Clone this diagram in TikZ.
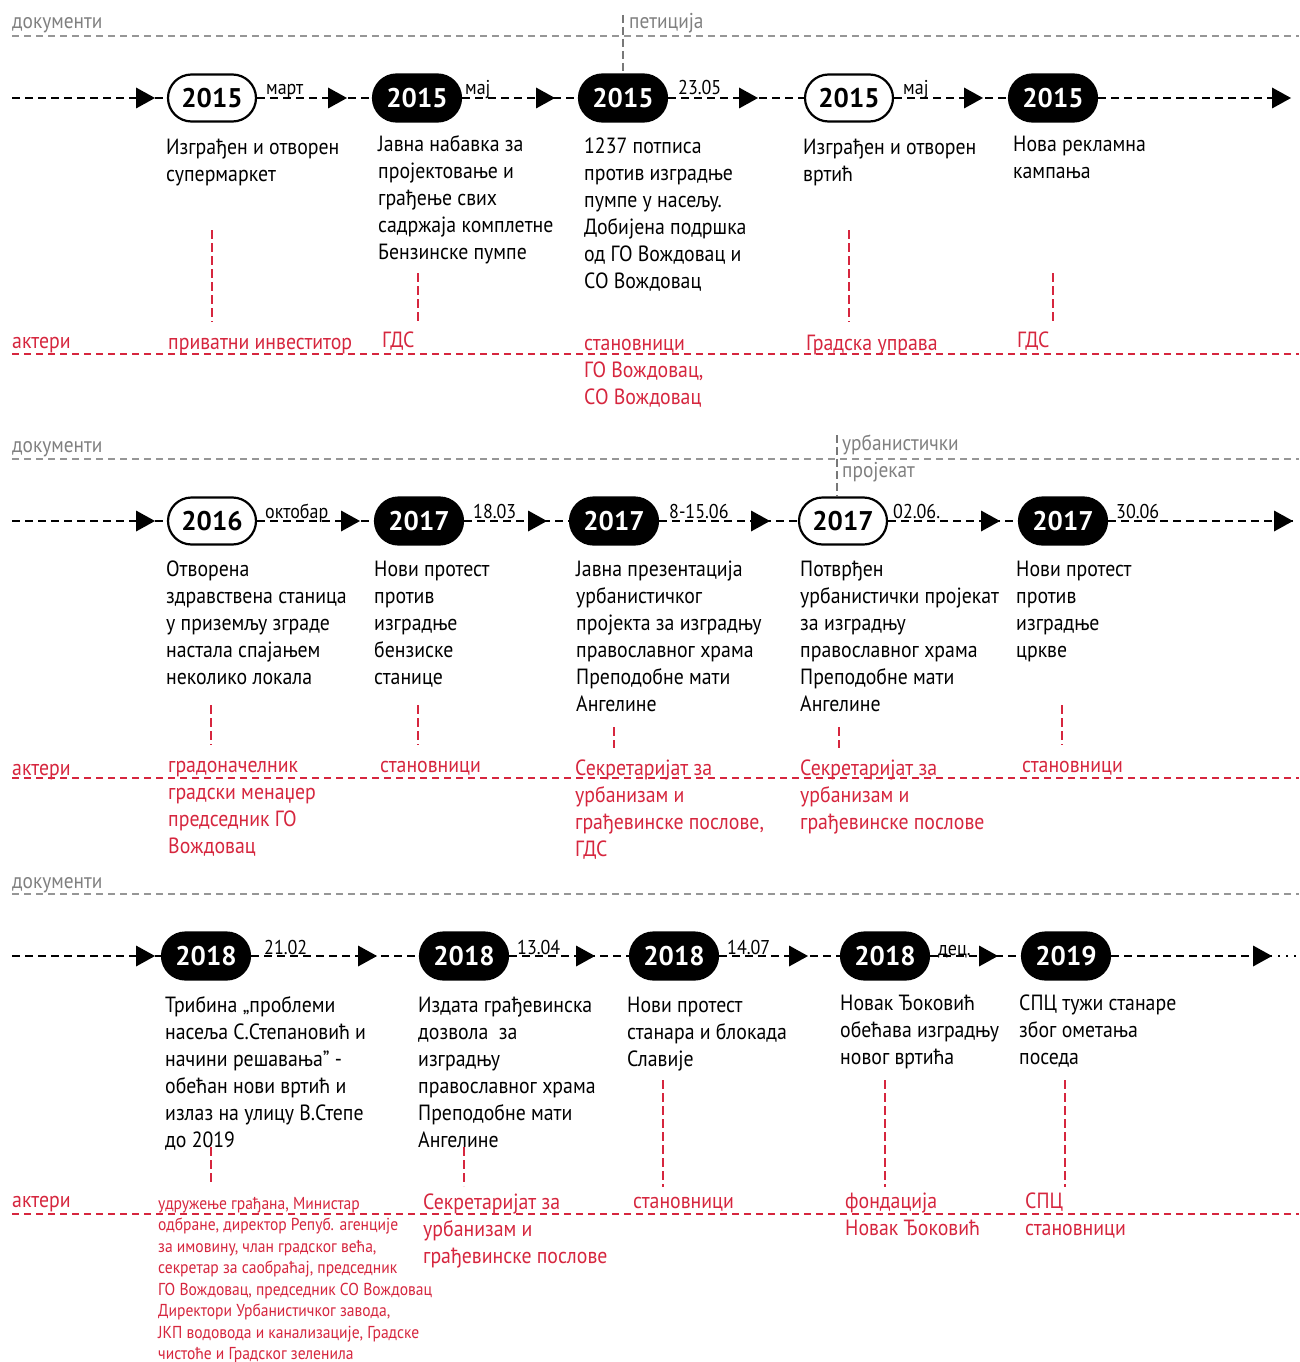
\documentclass[tikz,border=0pt]{standalone}
\usepackage{fontspec}
\setmainfont{PT Sans}[FakeStretch=0.9]
\newfontfamily\yearfont{PT Sans}
\usetikzlibrary{shapes.misc}
\definecolor{myred}{RGB}{214,38,62}
\definecolor{docgray}{RGB}{128,128,128}
\definecolor{linegray}{RGB}{150,150,150}
\tikzset{
  yr/.style={rounded rectangle, minimum width=88pt, minimum height=47pt, inner sep=0pt,
    font=\yearfont\bfseries\fontsize{27}{27}\selectfont, line width=2.2pt},
  yrw/.style={yr, draw=black, fill=white, text=black},
  yrb/.style={yr, draw=black, fill=black, text=white},
  tl/.style={line width=2pt, dash pattern=on 8pt off 5pt},
  tldot/.style={line width=2pt, dash pattern=on 2pt off 6pt},
  arrowhead/.pic={\fill[black] (-19,-10.5) -- (0,0) -- (-19,10.5) -- cycle;},
  body/.style={anchor=north west, inner sep=0pt, align=left, yshift=18.9pt,
    font=\fontsize{22}{27}\selectfont},
  act/.style={body, text=myred},
  smallact/.style={anchor=north west, inner sep=0pt, align=left, yshift=15.05pt,
    text=myred, font=\fontsize{17.3}{21.5}\selectfont},
  dt/.style={anchor=base west, inner sep=0pt, font=\fontsize{20}{20}\selectfont},
  doc/.style={anchor=base west, inner sep=0pt, text=docgray, font=\fontsize{21.5}{27}\selectfont},
  docline/.style={draw=linegray, line width=1.2pt, dash pattern=on 7pt off 5pt},
  docvert/.style={draw=linegray!80!black, line width=1.8pt, dash pattern=on 8pt off 4pt},
  actline/.style={draw=myred, line width=1.2pt, dash pattern=on 7pt off 5pt},
  link/.style={draw=myred, line width=1.1pt, dash pattern=on 9pt off 4pt},
}
\begin{document}
\begin{tikzpicture}[x=1pt, y=-1pt]
\useasboundingbox (0,0) rectangle (1299,1362);
\fill[white] (0,0) rectangle (1299,1362);

% ================= ROW 1 =================
\node[doc] (d1) at (12,29) {документи};
\coordinate (d1l) at (12,36); \coordinate (d1r) at (1299,36);
\draw[docline] (d1l) -- (d1r);
\node[doc] (pet) at (629,29) {петиција};

\node[yrw] (r1a) at (212,98) {2015};
\node[yrb] (r1b) at (417,98) {2015};
\node[yrb] (r1c) at (623,98) {2015};
\node[yrw] (r1d) at (849,98) {2015};
\node[yrb] (r1e) at (1053,98) {2015};
\coordinate (s1) at (12,98); \coordinate (e1) at (1291,98);
\coordinate (v1) at (623,15);
\draw[docvert] (v1) -- (r1c.north);

\draw[tl] (s1) -- (r1a.west);
\draw[tl] (r1a.east) -- (r1b.west);
\draw[tl] (r1b.east) -- (r1c.west);
\draw[tl] (r1c.east) -- (r1d.west);
\draw[tl] (r1d.east) -- (r1e.west);
\draw[tl] (r1e.east) -- (e1);
\pic at (155,98) {arrowhead};
\pic at (347,98) {arrowhead};
\pic at (555,98) {arrowhead};
\pic at (758,98) {arrowhead};
\pic at (983,98) {arrowhead};
\pic at (1291,98) {arrowhead};

\node[dt] (t1a) at (266,95) {март};
\node[dt] (t1b) at (465,95) {мај};
\node[dt] (t1c) at (678,95) {23.05};
\node[dt] (t1d) at (903,95) {мај};

\node[body] (b1a) at (166,154) {\strut Изграђен и отворен\\супермаркет};
\node[body] (b1b) at (378,151) {\strut Јавна набавка за\\пројектовање и\\грађење свих\\садржаја комплетне\\Бензинске пумпе};
\node[body] (b1c) at (584,153) {\strut 1237 потписа\\против изградње\\пумпе у насељу.\\Добијена подршка\\од ГО Вождовац и\\СО Вождовац};
\node[body] (b1d) at (803,154) {\strut Изграђен и отворен\\вртић};
\node[body] (b1e) at (1013,151) {\strut Нова рекламна\\кампања};

\coordinate (l1a1) at (212,230); \coordinate (l1a2) at (212,322);
\coordinate (l1b1) at (418,273); \coordinate (l1b2) at (418,322);
\coordinate (l1d1) at (849,230); \coordinate (l1d2) at (849,322);
\coordinate (l1e1) at (1053,273); \coordinate (l1e2) at (1053,322);
\draw[link] (l1a1) -- (l1a2);
\draw[link] (l1b1) -- (l1b2);
\draw[link] (l1d1) -- (l1d2);
\draw[link] (l1e1) -- (l1e2);

\node[act] (a1) at (12,348) {\strut актери};
\coordinate (a1l) at (12,354); \coordinate (a1r) at (1299,354);
\draw[actline] (a1l) -- (a1r);
\node[act] (a1a) at (168,349) {\strut приватни инвеститор};
\node[act] (a1b) at (382,347) {\strut ГДС};
\node[act] (a1c) at (584,350) {\strut становници\\ГО Вождовац,\\СО Вождовац};
\node[act] (a1d) at (806,350) {\strut Градска управа};
\node[act] (a1e) at (1017,347) {\strut ГДС};

% ================= ROW 2 =================
\node[doc] (d2) at (12,452) {документи};
\coordinate (d2l) at (12,459); \coordinate (d2r) at (1299,459);
\draw[docline] (d2l) -- (d2r);
\node[doc] (urb) at (842,450) {урбанистички};
\node[doc] (proj) at (842,477) {пројекат};

\node[yrw] (r2a) at (212,521) {2016};
\node[yrb] (r2b) at (419,521) {2017};
\node[yrb] (r2c) at (614,521) {2017};
\node[yrw] (r2d) at (843,521) {2017};
\node[yrb] (r2e) at (1063,521) {2017};
\coordinate (s2) at (12,521); \coordinate (e2) at (1293,521);
\coordinate (v2) at (837,435);
\draw[docvert] (v2) -- (v2 |- r2d.north);

\draw[tl] (s2) -- (r2a.west);
\draw[tl] (r2a.east) -- (r2b.west);
\draw[tl] (r2b.east) -- (r2c.west);
\draw[tl] (r2c.east) -- (r2d.west);
\draw[tl] (r2d.east) -- (r2e.west);
\draw[tl] (r2e.east) -- (e2);
\pic at (155,521) {arrowhead};
\pic at (360,521) {arrowhead};
\pic at (547,521) {arrowhead};
\pic at (770,521) {arrowhead};
\pic at (1000,521) {arrowhead};
\pic at (1293,521) {arrowhead};

\node[dt] (t2a) at (265,518) {октобар};
\node[dt] (t2b) at (473,518) {18.03};
\node[dt] (t2c) at (669,518) {8-15.06};
\node[dt] (t2d) at (893,518) {02.06.};
\node[dt] (t2e) at (1116,518) {30.06};

\node[body] (b2a) at (166,576) {\strut Отворена\\здравствена станица\\у приземљу зграде\\настала спајањем\\неколико локала};
\node[body] (b2b) at (374,576) {\strut Нови протест\\против\\изградње\\бензиске\\станице};
\node[body] (b2c) at (576,576) {\strut Јавна презентација\\урбанистичког\\пројекта за изградњу\\православног храма\\Преподобне мати\\Ангелине};
\node[body] (b2d) at (800,576) {\strut Потврђен\\урбанистички пројекат\\за изградњу\\православног храма\\Преподобне мати\\Ангелине};
\node[body] (b2e) at (1016,576) {\strut Нови протест\\против\\изградње\\цркве};

\coordinate (l2a1) at (211,705); \coordinate (l2a2) at (211,745);
\coordinate (l2b1) at (418,705); \coordinate (l2b2) at (418,745);
\coordinate (l2c1) at (614,727); \coordinate (l2c2) at (614,748);
\coordinate (l2d1) at (839,727); \coordinate (l2d2) at (839,748);
\coordinate (l2e1) at (1062,705); \coordinate (l2e2) at (1062,745);
\draw[link] (l2a1) -- (l2a2);
\draw[link] (l2b1) -- (l2b2);
\draw[link] (l2c1) -- (l2c2);
\draw[link] (l2d1) -- (l2d2);
\draw[link] (l2e1) -- (l2e2);

\node[act] (a2) at (12,775) {\strut актери};
\coordinate (a2l) at (12,778); \coordinate (a2r) at (1299,778);
\draw[actline] (a2l) -- (a2r);
\node[act] (a2a) at (168,772) {\strut градоначелник\\градски менаџер\\председник ГО\\Вождовац};
\node[act] (a2b) at (380,772) {\strut становници};
\node[act] (a2c) at (575,775) {\strut Секретаријат за\\урбанизам и\\грађевинске послове,\\ГДС};
\node[act] (a2d) at (800,775) {\strut Секретаријат за\\урбанизам и\\грађевинске послове};
\node[act] (a2e) at (1022,772) {\strut становници};

% ================= ROW 3 =================
\node[doc] (d3) at (12,888) {документи};
\coordinate (d3l) at (12,894); \coordinate (d3r) at (1299,894);
\draw[docline] (d3l) -- (d3r);

\node[yrb] (r3a) at (206,956) {2018};
\node[yrb] (r3b) at (464,956) {2018};
\node[yrb] (r3c) at (674,956) {2018};
\node[yrb] (r3d) at (885,956) {2018};
\node[yrb] (r3e) at (1066,956) {2019};
\coordinate (s3) at (12,956); \coordinate (e3) at (1272,956);
\coordinate (e3b) at (1278,956); \coordinate (e3c) at (1299,956);

\draw[tl] (s3) -- (r3a.west);
\draw[tl] (r3a.east) -- (r3b.west);
\draw[tl] (r3b.east) -- (r3c.west);
\draw[tl] (r3c.east) -- (r3d.west);
\draw[tl] (r3d.east) -- (r3e.west);
\draw[tl] (r3e.east) -- (e3);
\draw[tldot] (e3b) -- (e3c);
\pic at (155,956) {arrowhead};
\pic at (377,956) {arrowhead};
\pic at (595,956) {arrowhead};
\pic at (808,956) {arrowhead};
\pic at (998,956) {arrowhead};
\pic at (1272,956) {arrowhead};

\node[dt] (t3a) at (264,954) {21.02};
\node[dt] (t3b) at (517,954) {13.04};
\node[dt] (t3c) at (727,954) {14.07};
\node[dt] (t3d) at (938,955) {дец.};

\node[body] (b3a) at (165,1012) {\strut Трибина „проблеми\\насеља С.Степановић и\\начини решавања" -\\обећан нови вртић и\\излаз на улицу В.Степе\\до 2019};
\node[body] (b3b) at (418,1012) {\strut Издата грађевинска\\дозвола\ \ за\\изградњу\\православног храма\\Преподобне мати\\Ангелине};
\node[body] (b3c) at (627,1012) {\strut Нови протест\\станара и блокада\\Славије};
\node[body] (b3d) at (840,1010) {\strut Новак Ђоковић\\обећава изградњу\\новог вртића};
\node[body] (b3e) at (1019,1010) {\strut СПЦ тужи станаре\\због ометања\\поседа};

\coordinate (l3a1) at (211,1147); \coordinate (l3a2) at (211,1183);
\coordinate (l3b1) at (464,1147); \coordinate (l3b2) at (464,1186);
\coordinate (l3c1) at (663,1080); \coordinate (l3c2) at (663,1187);
\coordinate (l3d1) at (885,1080); \coordinate (l3d2) at (885,1187);
\coordinate (l3e1) at (1065,1080); \coordinate (l3e2) at (1065,1187);
\draw[link] (l3a1) -- (l3a2);
\draw[link] (l3b1) -- (l3b2);
\draw[link] (l3c1) -- (l3c2);
\draw[link] (l3d1) -- (l3d2);
\draw[link] (l3e1) -- (l3e2);

\node[act] (a3) at (12,1207) {\strut актери};
\coordinate (a3l) at (12,1214); \coordinate (a3r) at (1299,1214);
\draw[actline] (a3l) -- (a3r);
\node[smallact] (a3a) at (158,1209) {\strut удружење грађана, Министар\\одбране, директор Репуб. агенције\\за имовину, члан градског већа,\\секретар за саобраћај, председник\\ГО Вождовац, председник СО Вождовац\\Директори Урбанистичког завода,\\ЈКП водовода и канализације, Градске\\чистоће и Градског зеленила};
\node[act] (a3b) at (423,1209) {\strut Секретаријат за\\урбанизам и\\грађевинске послове};
\node[act] (a3c) at (633,1208) {\strut становници};
\node[act] (a3d) at (845,1208) {\strut фондација\\Новак Ђоковић};
\node[act] (a3e) at (1025,1208) {\strut СПЦ\\становници};
\end{tikzpicture}
\end{document}
